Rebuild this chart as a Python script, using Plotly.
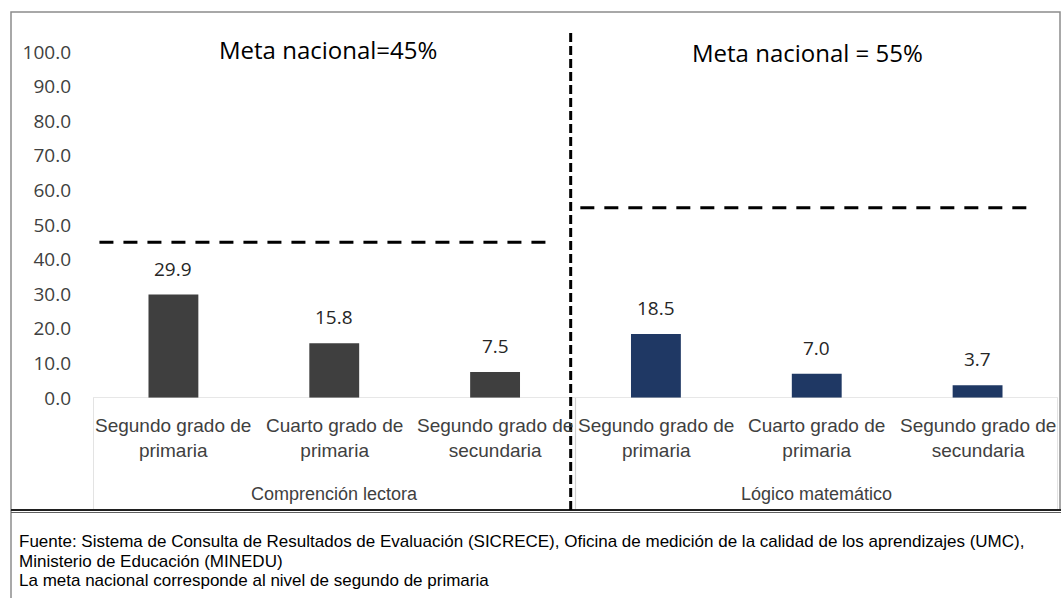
import plotly.graph_objects as go

categories = ["Segundo grado de<br>primaria", "Cuarto grado de<br>primaria", "Segundo grado de<br>secundaria",
              "Segundo grado de<br>primaria", "Cuarto grado de<br>primaria", "Segundo grado de<br>secundaria"]
groups = ["Comprención lectora", "Lógico matemático"]
values = [29.9, 15.8, 7.5, 18.5, 7.0, 3.7]
bar_colors = ["#3f3f3f", "#3f3f3f", "#3f3f3f", "#1f3864", "#1f3864", "#1f3864"]
metas = [45, 55]
meta_labels = ["Meta nacional=45%", "Meta nacional = 55%"]
yticks = [0, 10, 20, 30, 40, 50, 60, 70, 80, 90, 100]
footnote = ["Fuente: Sistema de Consulta de Resultados de Evaluación (SICRECE), Oficina de medición de la calidad de los aprendizajes (UMC),",
            "Ministerio de Educación (MINEDU)",
            "La meta nacional corresponde al nivel de segundo de primaria"]

W, H = 1061, 598
L, R, T, B = 93, 3, 33, 200
PH = H - T - B
PW = W - L - R

def py(pix):
    return (H - B - pix) / PH

def px(pix):
    return (pix - L) / PW

xs = list(range(len(values)))
fig = go.Figure()
fig.add_trace(go.Bar(x=xs, y=values, marker=dict(color=bar_colors, line=dict(width=0)),
                     width=0.31, hoverinfo="skip"))

label_font = "Liberation Sans Narrow, Arial Narrow, Liberation Sans, sans-serif"
num_font = "Open Sans, Noto Sans, sans-serif"

ann = []
for x, v in zip(xs, values):
    ann.append(dict(x=x, y=v, text=f"{v:.1f}", showarrow=False, yanchor="bottom", yshift=11,
                    font=dict(family=num_font, size=19, color="#262626")))
for x, c in zip(xs, categories):
    ann.append(dict(x=x, y=py(413), yref="paper", text=c, showarrow=False, yanchor="top", xanchor="center",
                    font=dict(family=label_font, size=19, color="#404040")))
for i, g in enumerate(groups):
    ann.append(dict(x=1 + 3 * i, y=py(494), yref="paper", text=g, showarrow=False, yanchor="middle",
                    xanchor="center", font=dict(family=label_font, size=18, color="#404040")))
ann.append(dict(x=px(328), y=py(49), xref="paper", yref="paper", text=meta_labels[0], showarrow=False,
                xanchor="center", yanchor="middle", font=dict(family=num_font, size=24, color="#000000")))
ann.append(dict(x=px(807), y=py(52), xref="paper", yref="paper", text=meta_labels[1], showarrow=False,
                xanchor="center", yanchor="middle", font=dict(family=num_font, size=24, color="#000000")))
for i, (line, ypix) in enumerate(zip(footnote, [541, 561, 580])):
    ann.append(dict(x=px(17), y=py(ypix), xref="paper", yref="paper", text=line,
                    showarrow=False, xanchor="left", yanchor="middle", align="left",
                    font=dict(family=label_font, size=17, color="#000000")))

shapes = []
# chart border
shapes.append(dict(type="rect", xref="paper", yref="paper", x0=px(11), x1=px(1060), y0=py(510), y1=py(12),
                   line=dict(color="#8c8c8c", width=1.5), layer="below"))
# footnote box
shapes.append(dict(type="line", xref="paper", yref="paper", x0=px(11), x1=px(11), y0=py(510), y1=py(600),
                   line=dict(color="#8c8c8c", width=1.5)))
shapes.append(dict(type="line", xref="paper", yref="paper", x0=px(11), x1=px(1061), y0=py(510), y1=py(510),
                   line=dict(color="#202020", width=2)))
shapes.append(dict(type="line", xref="paper", yref="paper", x0=px(11), x1=px(1061), y0=py(512.5), y1=py(512.5),
                   line=dict(color="#606060", width=1)))
# axis line and separators
shapes.append(dict(type="line", xref="x", yref="y", x0=-0.5, x1=5.5, y0=0, y1=0,
                   line=dict(color="#d0d0d0", width=1.2)))
for sx in [-0.5, 2.5, 5.5]:
    shapes.append(dict(type="line", xref="x", yref="paper", x0=sx, x1=sx, y0=0, y1=py(509),
                       line=dict(color="#d0d0d0", width=1.2)))
# meta lines
shapes.append(dict(type="line", xref="x", yref="y", x0=-0.46, x1=2.37, y0=metas[0], y1=metas[0],
                   line=dict(color="#000000", width=3, dash="14px,10px")))
shapes.append(dict(type="line", xref="x", yref="y", x0=2.53, x1=5.33, y0=metas[1], y1=metas[1],
                   line=dict(color="#000000", width=3, dash="14px,10px")))
# vertical dashed divider
shapes.append(dict(type="line", xref="x", yref="paper", x0=2.47, x1=2.47, y0=py(33), y1=py(512),
                   line=dict(color="#000000", width=3, dash="9px,4px")))

fig.update_layout(
    width=W, height=H,
    margin=dict(l=L, r=R, t=T, b=B),
    paper_bgcolor="white", plot_bgcolor="white",
    showlegend=False,
    annotations=ann, shapes=shapes,
    xaxis=dict(range=[-0.5, 5.5], showticklabels=False, showgrid=False, zeroline=False,
               showline=False, ticks="", fixedrange=True),
    yaxis=dict(range=[0, PH / 3.46], tickvals=yticks, ticktext=[f"{t:.1f}" for t in yticks],
               showgrid=False, zeroline=False, showline=False, ticks="", ticklabelstandoff=21,
               tickfont=dict(family=num_font, size=19, color="#404040"), fixedrange=True),
)

fig.write_html("out.html", config={"displayModeBar": False},
               post_script="document.body.style.margin='0';document.body.style.overflow='hidden';")
